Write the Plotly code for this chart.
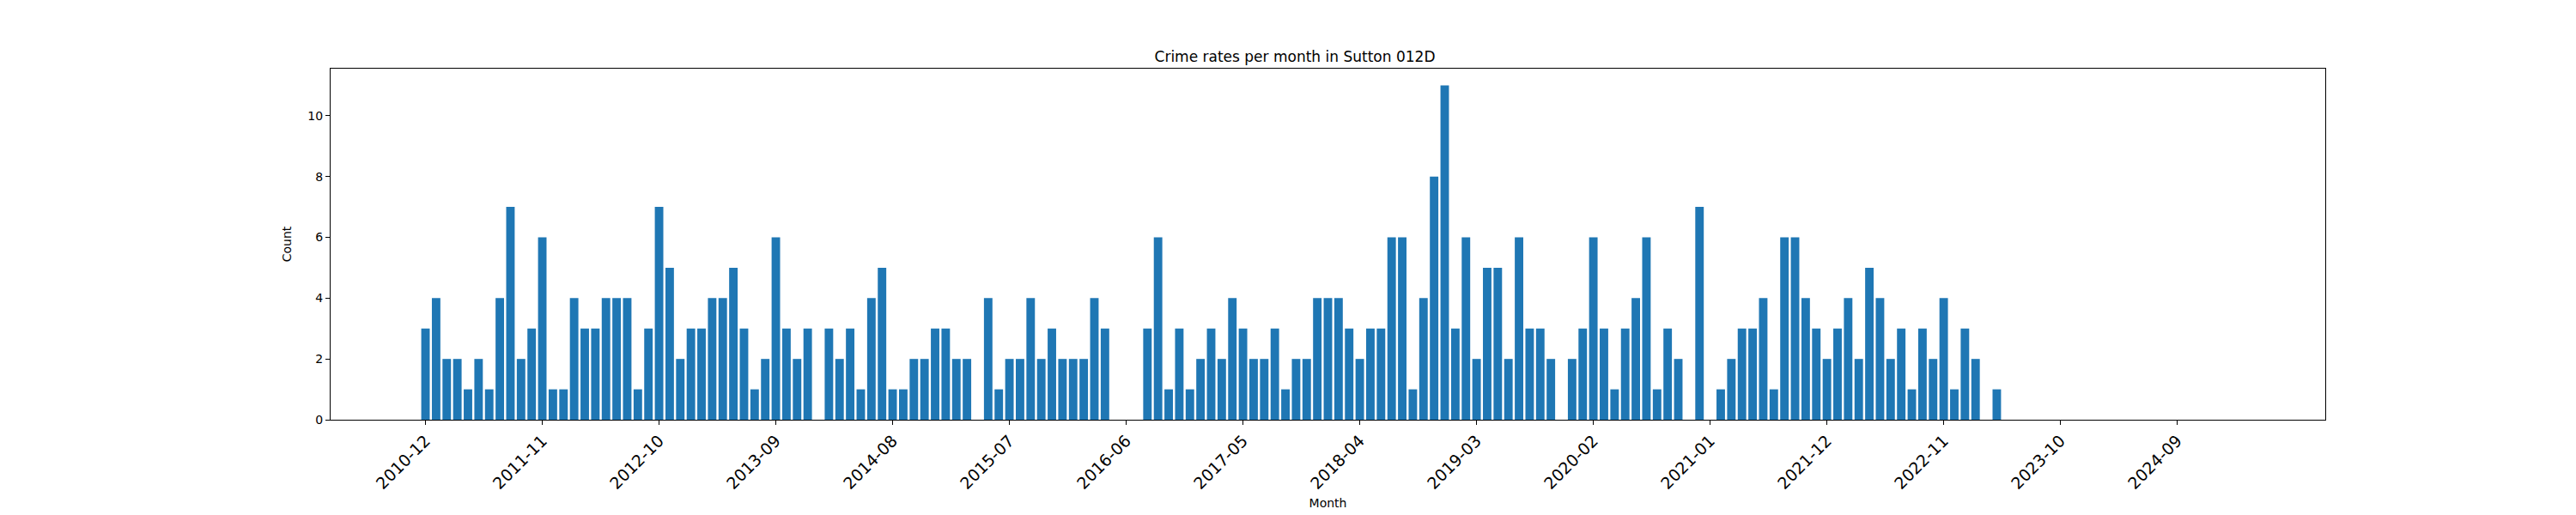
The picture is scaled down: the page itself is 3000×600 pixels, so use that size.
import pandas as pd
import plotly.graph_objects as go

# months 2010-12 .. 2025-02
months = [str(p) for p in pd.period_range("2010-12", "2025-02", freq="M")]

counts = [3, 4, 2, 2, 1, 2, 1, 4, 7, 2, 3, 6, 1, 1, 4, 3, 3, 4, 4, 4,
          1, 3, 7, 5, 2, 3, 3, 4, 4, 5, 3, 1, 2, 6, 3, 2, 3, 0, 3, 2,
          3, 1, 4, 5, 1, 1, 2, 2, 3, 3, 2, 2, 0, 4, 1, 2, 2, 4, 2, 3,
          2, 2, 2, 4, 3, 0, 0, 0, 3, 6, 1, 3, 1, 2, 3, 2, 4, 3, 2, 2,
          3, 1, 2, 2, 4, 4, 4, 3, 2, 3, 3, 6, 6, 1, 4, 8, 11, 3, 6, 2,
          5, 5, 2, 6, 3, 3, 2, 0, 2, 3, 6, 3, 1, 3, 4, 6, 1, 3, 2, 0,
          7, 0, 1, 2, 3, 3, 4, 1, 6, 6, 4, 3, 2, 3, 4, 2, 5, 4, 2, 3,
          1, 3, 2, 4, 1, 3, 2, 0, 1]
counts = counts + [0] * (len(months) - len(counts))

tick_labels = months[::11]

fig = go.Figure(go.Bar(x=months, y=counts, marker_color="#1f77b4",
                       marker_line_width=0))

fig.update_layout(
    width=3000, height=600,
    plot_bgcolor="white", paper_bgcolor="white",
    margin=dict(l=377, r=300, t=72, b=119),
    bargap=0.2,
    showlegend=False,
    font=dict(family="DejaVu Sans", color="black"),
    title=dict(text="Crime rates per month in Sutton 012D", x=0.5, xanchor="center",
               y=1 - 58 / 600, yanchor="middle", font=dict(size=17)),
)
n = len(months)
pad = 0.05 * (n - 0.2)
fig.update_xaxes(
    type="category", range=[-0.4 - pad, n - 0.6 + pad],
    tickmode="array", tickvals=tick_labels, ticktext=tick_labels,
    tickangle=-45, tickfont=dict(size=19),
    ticks="outside", ticklen=5, tickcolor="black",
    showline=True, linecolor="black", linewidth=1, mirror=True,
    showgrid=False, title=dict(text="Month", font=dict(size=14), standoff=8),
)
fig.update_yaxes(
    range=[0, 11.55], tickvals=[0, 2, 4, 6, 8, 10], tickfont=dict(size=14),
    ticks="outside", ticklen=5, tickcolor="black",
    showline=True, linecolor="black", linewidth=1, mirror=True,
    showgrid=False, zeroline=False, title=dict(text="Count", font=dict(size=14)),
)

fig.write_html("out.html")
